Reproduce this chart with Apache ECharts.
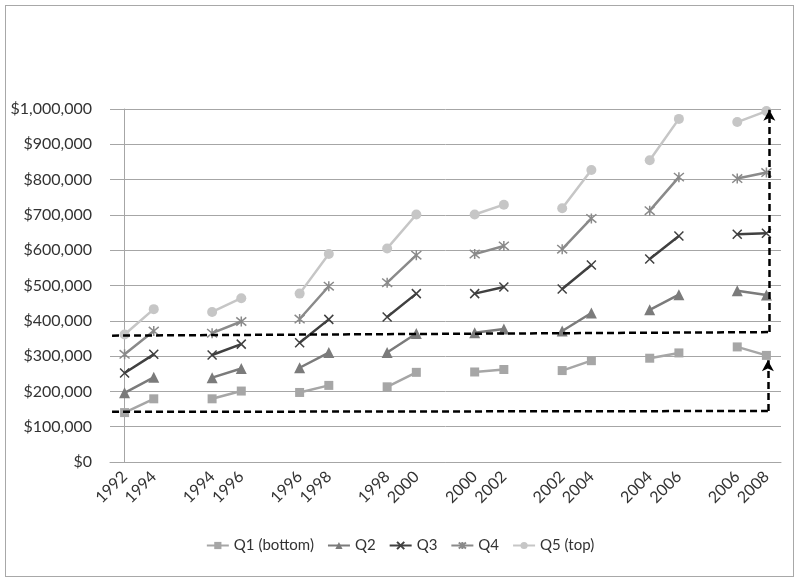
<!DOCTYPE html>
<html>
<head>
<meta charset="utf-8">
<script src="https://cdn.jsdelivr.net/npm/echarts@6/dist/echarts.min.js"></script>
<style>
  html, body { margin: 0; padding: 0; background: #fff; }
  #wrap { position: relative; width: 800px; height: 582px; }
  #frame { position: absolute; left: 5px; top: 5px; width: 787px; height: 570px; border: 1px solid #a8a8a8; }
  #chart { position: absolute; left: 0; top: 0; width: 800px; height: 582px; }
</style>
</head>
<body>
<div id="wrap">
  <div id="frame"></div>
  <div id="chart"></div>
</div>
<script>
// tick labels: pairs of years with a blank slot between each pair
const years = ['1992', '1994', '', '1994', '1996', '', '1996', '1998', '', '1998', '2000', '',
  '2000', '2002', '', '2002', '2004', '', '2004', '2006', '', '2006', '2008']

const q1 = [140000, 179000, null, 179000, 201000, null, 197000, 217000, null, 213000, 254000, null,
  255000, 262000, null, 259000, 287000, null, 294000, 309000, null, 326000, 302000]
const q2 = [196000, 240000, null, 239000, 265000, null, 267000, 310000, null, 310000, 364000, null,
  366000, 377000, null, 371000, 422000, null, 431000, 474000, null, 485000, 473000]
const q3 = [252000, 305000, null, 303000, 334000, null, 338000, 404000, null, 411000, 477000, null,
  477000, 496000, null, 490000, 558000, null, 575000, 640000, null, 645000, 648000]
const q4 = [305000, 371000, null, 365000, 398000, null, 405000, 498000, null, 508000, 586000, null,
  589000, 612000, null, 603000, 690000, null, 712000, 807000, null, 803000, 820000]
const q5 = [361000, 433000, null, 425000, 464000, null, 477000, 589000, null, 605000, 701000, null,
  701000, 729000, null, 719000, 827000, null, 855000, 972000, null, 963000, 994000]

// dashed annotation arrows, [slot position, value]
const lowArrow = [[-0.43, 142000], [22.05, 144500], [22.05, 288000]]
const highArrow = [[-0.43, 358000], [22.1, 368000], [22.1, 998000]]

const X = 'path://M0,0L10,10M10,0L0,10'
const STAR = 'path://M0,0L10,10M10,0L0,10M5,-1L5,11'

const SER = [
  { name: 'Q1 (bottom)', data: q1, color: '#a6a6a6', symbol: 'rect', size: 9 },
  { name: 'Q2', data: q2, color: '#7b7b7b', symbol: 'triangle', size: 11 },
  { name: 'Q3', data: q3, color: '#404040', symbol: X, size: 9, stroke: true },
  { name: 'Q4', data: q4, color: '#8a8a8a', symbol: STAR, size: 10, stroke: true },
  { name: 'Q5 (top)', data: q5, color: '#c6c6c6', symbol: 'circle', size: 10 },
]

function seg(pts, i, arrow) {
  return [
    { coord: pts[i], symbol: 'none' },
    { coord: pts[i + 1], symbol: arrow ? 'arrow' : 'none', symbolSize: arrow ? [9, 11] : 0 },
  ]
}

const chart = echarts.init(document.getElementById('chart'))
const font = 'Lato, "Open Sans", sans-serif'

const series = SER.map(s => ({
  name: s.name, type: 'line', data: s.data, connectNulls: false,
  symbol: s.symbol, symbolSize: s.size, showSymbol: true,
  lineStyle: { color: s.color, width: 2.5 },
  itemStyle: s.stroke
    ? { color: s.color, borderColor: s.color, borderWidth: 1.5 }
    : { color: s.color },
  emphasis: { disabled: true },
}))

series.push({
  name: 'arrows', type: 'line', xAxisIndex: 1, data: [], silent: true,
  markLine: {
    silent: true, animation: false, label: { show: false },
    lineStyle: { color: '#000', width: 2.5, type: [7, 4] },
    data: [seg(lowArrow, 0, false), seg(lowArrow, 1, true), seg(highArrow, 0, false), seg(highArrow, 1, true)],
  },
})

chart.setOption({
  animation: false,
  textStyle: { fontFamily: font },
  grid: { left: 110, right: 19, top: 109, bottom: 120 },
  legend: {
    data: SER.map(s => s.name), bottom: 24, left: 'center',
    itemWidth: 22, itemHeight: 9, itemGap: 13,
    textStyle: { color: '#333', fontSize: 15, fontFamily: font },
  },
  xAxis: [
    {
      type: 'category', data: years, boundaryGap: true,
      axisLine: { lineStyle: { color: '#a6a6a6' } },
      axisTick: { show: false },
      axisLabel: { interval: 0, rotate: 45, color: '#333', fontSize: 16, margin: 12, fontFamily: font },
    },
    { type: 'value', min: -0.5, max: 22.5, show: false },
  ],
  yAxis: {
    type: 'value', min: 0, max: 1000000, interval: 100000,
    axisLine: { show: true, lineStyle: { color: '#a6a6a6' } },
    axisTick: { show: false },
    splitLine: { lineStyle: { color: '#a6a6a6' } },
    axisLabel: {
      color: '#333', fontSize: 16, margin: 18, fontFamily: font,
      formatter: v => '$' + v.toLocaleString('en-US'),
    },
  },
  series,
})
</script>
</body>
</html>
